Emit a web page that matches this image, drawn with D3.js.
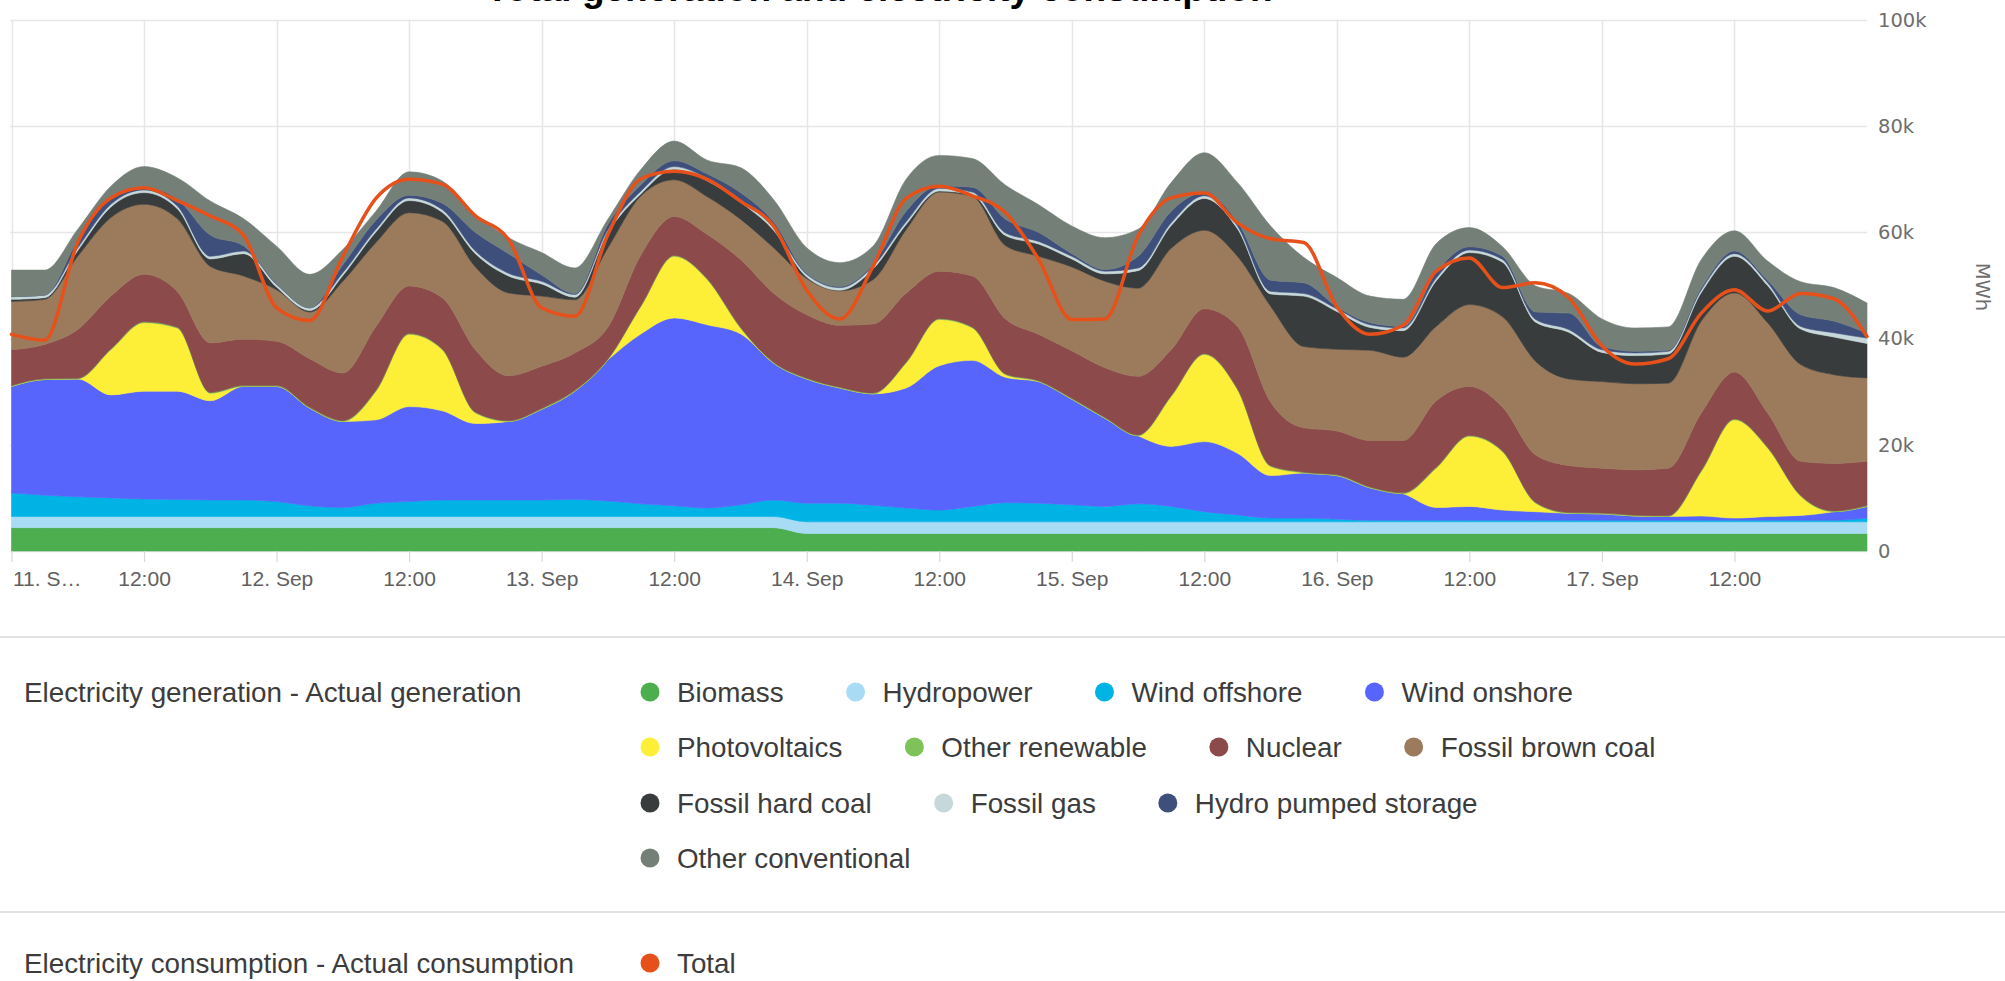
<!DOCTYPE html>
<html>
<head>
<meta charset="utf-8">
<script src="https://cdn.jsdelivr.net/npm/d3@7"></script>
<style>
  html, body { margin: 0; padding: 0; background: #fff; }
  svg { display: block; }
</style>
</head>
<body>
<svg id="chart"></svg>
<script>
// Hours since 11 Sep 00:00 (3-hourly readings)
var hours = [0,3,6,9,12,15,18,21,24,27,30,33,36,39,42,45,48,51,54,57,60,63,66,69,72,75,78,81,84,87,90,93,96,99,102,105,108,111,114,117,120,123,126,129,132,135,138,141,144,147,150,153,156,159,162,165,168];

// Generation per source, MWh
var biomass = [4400,4400,4400,4400,4400,4400,4400,4400,4400,4400,4400,4400,4400,4400,4400,4400,4400,4400,4400,4400,4400,4400,4400,4400,
  3300,3300,3300,3300,3300,3300,3300,3300,3300,3300,3300,3300,3300,3300,3300,3300,3300,3300,3300,3300,3300,3300,3300,3300,3300,3300,3300,3300,3300,3300,3300,3300,3300];
var hydropower = [2100,2100,2100,2100,2100,2100,2100,2100,2100,2100,2100,2100,2100,2100,2100,2100,2100,2100,2100,2100,2100,2100,2100,2100,
  2200,2200,2200,2200,2200,2200,2200,2200,2200,2200,2200,2200,2200,2200,2200,2200,2200,2200,2200,2200,2200,2200,2200,2200,2200,2200,2200,2200,2200,2200,2200,2200,2200];
var windOffshore = [4400,4000,3700,3500,3300,3200,3100,3100,2800,2000,1700,2500,2800,3100,3100,3100,3100,3200,2900,2400,
  2000,1600,2200,3100,3500,3500,3100,2600,2200,2900,3600,3500,3200,2900,3400,2900,1900,1300,700,700,
  500,300,300,300,300,300,300,300,300,300,300,300,300,300,300,300,700];
var windOnshore = [20100,21800,22200,19400,20300,20400,18700,21400,21700,18400,16200,15700,17900,16800,14400,14800,17100,20400,26600,32000,
  35400,34500,32200,25800,23400,21700,21000,22600,27200,27500,23600,22900,19900,16600,12800,11300,13200,11600,8000,8500,
  8200,6100,5000,2400,2600,1900,1600,1300,1200,800,700,800,400,700,900,1600,2200];
var photovoltaics = [0,0,0,8500,12900,11900,1400,0,0,0,0,5400,13600,11500,2000,0,0,0,0,5200,
  11600,8500,1100,0,0,0,0,4700,8700,6100,500,0,0,0,0,9400,16400,12000,1700,0,
  0,0,0,7400,13200,11000,1600,0,0,0,0,8400,18500,12900,3600,0,0];
var otherRenewable = [150,150,150,150,150,150,150,150,150,150,150,150,150,150,150,150,150,150,150,150,
  150,150,150,150,150,150,150,150,150,150,150,150,150,150,150,150,150,150,150,150,
  150,150,150,150,150,150,150,150,150,150,150,150,150,150,150,150,150];
var nuclear = [6750,6450,9150,9950,8950,6750,9350,8750,8350,9150,8950,12050,8950,9650,11750,8450,7950,7050,6000,9550,
  7350,8350,12750,13000,11950,11650,13000,13000,8950,9650,10350,8750,8950,9350,11050,8650,8450,11750,12000,8350,
  8250,8750,9850,12550,9250,8250,8950,8850,8450,8550,8950,10850,8850,6450,6450,8950,8350];
var brownCoal = [9100,8500,13800,14800,13200,13700,14400,11900,9700,8800,17300,15800,13800,14400,15600,15600,13200,10000,14950,11100,
  6900,7100,7600,8550,6800,6500,8350,11950,14900,15000,13800,14700,15800,16300,16600,19100,14800,13200,18050,15300,
  15400,17000,15700,14000,15400,17000,17600,16300,16300,16200,16000,17300,14900,17000,18200,16700,15700];
var hardCoal = [400,300,1100,2000,2200,1900,1400,4200,500,300,1100,2000,2300,1700,2500,3200,2300,500,2900,400,
  2000,3000,3200,3300,300,100,2000,1000,200,300,1900,2300,1500,1400,3300,4300,6000,5200,2300,9500,
  7100,4300,5000,8600,9800,10300,7400,8800,5500,5300,5500,5400,6900,7000,6700,7100,6500];
var fossilGas = [500,500,500,500,500,500,500,500,500,500,500,500,500,500,500,500,500,500,500,500,
  500,500,500,500,500,500,500,500,500,500,500,500,500,500,500,500,500,500,500,500,
  500,500,500,500,500,500,500,500,500,500,500,500,500,500,500,800,1000];
var pumpedStorage = [0,0,1400,1200,500,1300,4000,1000,200,0,1500,1700,500,1200,3500,3700,1200,200,1000,1200,
  1100,800,1300,1100,200,200,400,2000,500,900,2600,1700,500,300,2200,2200,600,800,2100,2000,
  400,400,300,1100,600,600,1400,3100,600,300,200,400,500,500,2200,2200,900];
var otherConventional = [5000,4700,2100,2200,3900,4000,6400,5100,7000,6300,2900,1700,4400,4200,3400,3000,4200,4800,1000,2900,
  3700,2600,4700,4200,4800,4500,3400,6000,5700,5400,6400,5200,5200,6000,5100,5400,7500,7400,10200,4800,
  5500,5000,5100,5400,3600,1800,4900,3700,5200,4400,4400,5300,3800,3600,6200,6300,5700];

// Consumption, MWh
var consumption = [40800,39700,58100,66500,68400,66000,63100,59500,45800,43400,55500,66400,70000,69100,63100,58700,45800,44200,59600,70100,
  71500,70000,65900,61200,49100,43700,53600,66400,68700,66900,63700,54900,43600,43700,59300,66500,67400,61800,58800,58100,
  46000,40800,42500,52700,55200,49600,50500,47700,38600,35200,36200,44800,49200,45200,48500,47500,40400];

var seriesNames = ["Biomass", "Hydropower", "Wind offshore", "Wind onshore", "Photovoltaics", "Other renewable",
  "Nuclear", "Fossil brown coal", "Fossil hard coal", "Fossil gas", "Hydro pumped storage", "Other conventional"];
var seriesColors = ["#4cae4f", "#a8dcf4", "#00b3e5", "#5865fc", "#fdee38", "#7ec35a",
  "#8c4a4b", "#9b7b5b", "#393c3d", "#c6d8da", "#3e4f7b", "#747f78"];
var seriesValues = [biomass, hydropower, windOffshore, windOnshore, photovoltaics, otherRenewable,
  nuclear, brownCoal, hardCoal, fossilGas, pumpedStorage, otherConventional];

var consumptionName = "Total";
var consumptionColor = "#e6511b";
var groupLabels = ["Electricity generation - Actual generation", "Electricity consumption - Actual consumption"];
var legendRows = [[0, 1, 2, 3], [4, 5, 6, 7], [8, 9, 10], [11]];
var yTicks = [0, 20000, 40000, 60000, 80000, 100000];
var yUnit = "MWh";
var titleText = "Total generation and electricity consumption";

// Layout
var svg_width = 2005, svg_height = 981;
var plot = { left: 11.5, right: 1867, top: 20, bottom: 551 };
var start = Date.UTC(2018, 8, 11);
var end = start + 168 * 3600e3;

var svg = d3.select("#chart")
  .attr("width", svg_width)
  .attr("height", svg_height)
  .style("font-family", "'Liberation Sans', Arial, sans-serif");

var x = d3.scaleUtc().domain([new Date(start), new Date(end)]).range([plot.left, plot.right]);
var y = d3.scaleLinear().domain([0, 100000]).range([plot.bottom, plot.top]);

var table = hours.map(function (h, i) {
  var row = { date: new Date(start + h * 3600e3) };
  seriesValues.forEach(function (s, k) { row[k] = s[i]; });
  return row;
});

// Title (cut off by the top edge as in the screenshot)
svg.append("text")
  .attr("x", 486)
  .attr("y", 0.5)
  .attr("font-size", 37)
  .attr("font-weight", "bold")
  .attr("fill", "#000")
  .text(titleText);

// Grid
var xTicks = d3.utcHour.every(12).range(new Date(start), new Date(end));
var grid = svg.append("g").attr("class", "grid");
grid.selectAll("line.h")
  .data(yTicks)
  .enter().append("line")
  .attr("x1", 10).attr("x2", plot.right)
  .attr("y1", function (d) { return Math.round(y(d)) + 0.5; })
  .attr("y2", function (d) { return Math.round(y(d)) + 0.5; })
  .attr("stroke", "#e6e6e6")
  .attr("stroke-width", 1.5);
grid.selectAll("line.v")
  .data(xTicks)
  .enter().append("line")
  .attr("x1", function (d) { return Math.round(x(d)) + 0.5; })
  .attr("x2", function (d) { return Math.round(x(d)) + 0.5; })
  .attr("y1", plot.top)
  .attr("y2", plot.bottom)
  .attr("stroke", "#e6e6e6")
  .attr("stroke-width", 1.5);

// Stacked areas
var stack = d3.stack().keys(d3.range(seriesValues.length));
var layers = stack(table);

var area = d3.area()
  .curve(d3.curveMonotoneX)
  .x(function (d) { return x(d.data.date); })
  .y0(function (d) { return y(d[0]); })
  .y1(function (d) { return y(d[1]); });

svg.append("g").attr("class", "areas")
  .selectAll("path")
  .data(layers)
  .enter().append("path")
  .attr("d", area)
  .attr("fill", function (d) { return seriesColors[d.key]; })
  .attr("stroke", function (d) { return seriesColors[d.key]; })
  .attr("stroke-width", 0.6);

// Consumption line
var line = d3.line()
  .curve(d3.curveMonotoneX)
  .x(function (d, i) { return x(new Date(start + hours[i] * 3600e3)); })
  .y(function (d) { return y(d); });

svg.append("path")
  .datum(consumption)
  .attr("class", "line")
  .attr("fill", "none")
  .attr("stroke", consumptionColor)
  .attr("stroke-width", 3.5)
  .attr("stroke-linejoin", "round")
  .attr("stroke-linecap", "round")
  .attr("d", line);

// X axis
var fmtDay = d3.utcFormat("%-d. %b"), fmtHour = d3.utcFormat("%H:%M");
var xAxis = svg.append("g")
  .attr("class", "x_axis")
  .attr("transform", "translate(0," + plot.bottom + ")")
  .call(d3.axisBottom(x)
    .tickValues(xTicks)
    .tickSize(11)
    .tickPadding(9.5)
    .tickFormat(function (d, i) {
      if (i == 0) return "11. S\u2026";
      return d.getUTCHours() == 0 ? fmtDay(d) : fmtHour(d);
    }));
xAxis.select(".domain").remove();
xAxis.selectAll(".tick line").attr("stroke", "#d8d8d8").attr("stroke-width", 1.2);
xAxis.selectAll(".tick text")
  .attr("font-family", "'Liberation Sans', Arial, sans-serif")
  .attr("font-size", 21)
  .attr("fill", "#606060");
xAxis.select(".tick text").attr("text-anchor", "start").attr("x", 1);

// Y axis on the right
var yAxis = svg.append("g")
  .attr("class", "y_axis")
  .attr("transform", "translate(1878,0)")
  .call(d3.axisRight(y)
    .tickValues(yTicks)
    .tickSize(0)
    .tickPadding(0)
    .tickFormat(function (d) { return d == 0 ? "0" : (d / 1000) + "k"; }));
yAxis.select(".domain").remove();
yAxis.selectAll(".tick text")
  .attr("font-family", "'DejaVu Sans', Verdana, sans-serif")
  .attr("font-size", 19.5)
  .attr("fill", "#6e6e6e");

svg.append("text")
  .attr("transform", "translate(1976,287) rotate(90)")
  .attr("text-anchor", "middle")
  .attr("font-family", "'DejaVu Sans', Verdana, sans-serif")
  .attr("font-size", 19.5)
  .attr("fill", "#6e6e6e")
  .text(yUnit);

// Legend
svg.append("line").attr("x1", 0).attr("x2", svg_width).attr("y1", 637).attr("y2", 637)
  .attr("stroke", "#e2e2e2").attr("stroke-width", 2);
svg.append("line").attr("x1", 0).attr("x2", svg_width).attr("y1", 912).attr("y2", 912)
  .attr("stroke", "#e2e2e2").attr("stroke-width", 2);

var legend = svg.append("g").attr("class", "legend")
  .attr("font-size", 27.8)
  .attr("fill", "#3c3c3c");
var rowY = [692, 747, 803, 858];

legend.append("text").attr("x", 24).attr("y", rowY[0]).attr("dy", "0.36em").text(groupLabels[0]);
legend.append("text").attr("x", 24).attr("y", 963).attr("dy", "0.36em").text(groupLabels[1]);

legendRows.forEach(function (row, r) {
  var cx = 650;
  row.forEach(function (k) {
    legend.append("circle")
      .attr("cx", cx).attr("cy", rowY[r]).attr("r", 9.5)
      .attr("fill", seriesColors[k]);
    var t = legend.append("text")
      .attr("x", cx + 27).attr("y", rowY[r]).attr("dy", "0.36em")
      .text(seriesNames[k]);
    cx = cx + 27 + t.node().getComputedTextLength() + 72;
  });
});

legend.append("circle").attr("cx", 650).attr("cy", 963).attr("r", 9.5).attr("fill", consumptionColor);
legend.append("text").attr("x", 677).attr("y", 963).attr("dy", "0.36em").text(consumptionName);
</script>
</body>
</html>
